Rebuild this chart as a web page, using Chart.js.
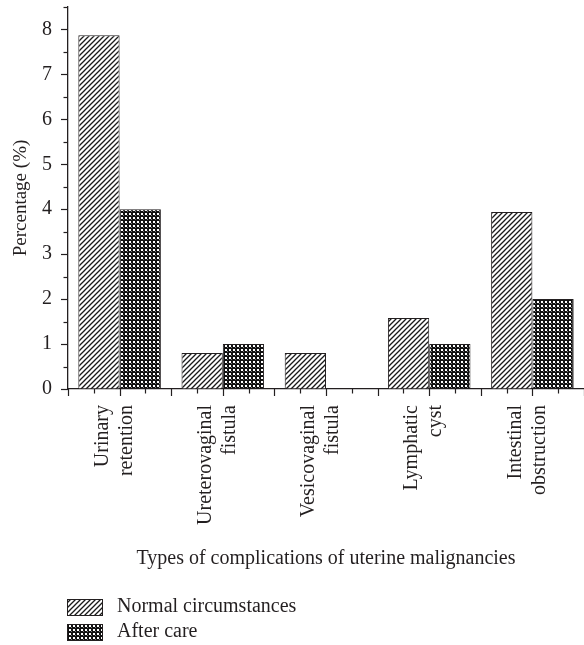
<!DOCTYPE html>
<html>
<head>
<meta charset="utf-8">
<script src="https://cdn.jsdelivr.net/npm/chart.js@4/dist/chart.umd.min.js"></script>
<style>
  html, body { margin: 0; padding: 0; background: #fff; }
  #wrap { width: 584px; height: 645px; position: relative; }
</style>
</head>
<body>
<div id="wrap"><canvas id="c"></canvas></div>
<script>
// ---- data ----
const categories = [
  ["Urinary", "retention"],
  ["Ureterovaginal", "fistula"],
  ["Vesicovaginal", "fistula"],
  ["Lymphatic", "cyst"],
  ["Intestinal", "obstruction"]
];
const seriesNames = ["Normal circumstances", "After care"];
const normalValues = [7.87, 0.8, 0.8, 1.58, 3.94];
const afterCareValues = [4.0, 1.0, 0, 1.0, 2.0];
const yAxisTitle = "Percentage (%)";
const xAxisTitle = "Types of complications of uterine malignancies";

const INK = '#231f20';
const FONT = "'Liberation Serif', 'DejaVu Serif', 'Times New Roman', serif";

function hatchPattern() {
  const s = 5;
  const c = document.createElement('canvas');
  c.width = s; c.height = s;
  const g = c.getContext('2d');
  g.fillStyle = '#fff'; g.fillRect(0, 0, s, s);
  g.strokeStyle = '#1a1a1a'; g.lineWidth = 1.3;
  g.beginPath();
  g.moveTo(-1, 1); g.lineTo(1, -1);
  g.moveTo(0, s); g.lineTo(s, 0);
  g.moveTo(s - 1, s + 1); g.lineTo(s + 1, s - 1);
  g.stroke();
  return g.createPattern(c, 'repeat');
}
function checkPattern() {
  const s = 4;
  const c = document.createElement('canvas');
  c.width = s; c.height = s;
  const g = c.getContext('2d');
  g.fillStyle = '#111'; g.fillRect(0, 0, s, s);
  g.fillStyle = '#fff'; g.fillRect(1, 1, 2, 2);
  g.fillStyle = '#777'; g.fillRect(3, 3, 1, 1);
  return g.createPattern(c, 'repeat');
}

const ctx = document.getElementById('c').getContext('2d');
const patterns = [hatchPattern(), checkPattern()];

function zeroPadding(scale) {
  scale.paddingTop = 0; scale.paddingBottom = 0;
  scale.paddingLeft = 0; scale.paddingRight = 0;
}

const axisTicksPlugin = {
  id: 'axisTicks',
  afterDraw(chart) {
    const g = chart.ctx;
    const xs = chart.scales.x, ys = chart.scales.y;
    g.save();
    g.strokeStyle = INK;
    g.lineWidth = 1.2;
    const yl = chart.chartArea.left;
    for (let k = 0; k <= 17; k++) {
      const v = k * 0.5;
      const py = Math.round(ys.getPixelForValue(v)) + 0.5;
      const len = (k % 2 === 0) ? 7 : 4.5;
      g.beginPath(); g.moveTo(yl, py); g.lineTo(yl - len, py); g.stroke();
    }
    const w = xs.getPixelForValue(1) - xs.getPixelForValue(0);
    const start = xs.getPixelForValue(0) - w / 2;
    const yb = chart.chartArea.bottom;
    const n = categories.length * 4;
    for (let k = 0; k <= n; k++) {
      const px = Math.round(start + k * w / 4) + 0.5;
      const len = (k % 2 === 0) ? 7 : 4.5;
      g.beginPath(); g.moveTo(px, yb); g.lineTo(px, yb + len); g.stroke();
    }
    g.restore();
  }
};

const legendPlugin = {
  id: 'customLegend',
  afterDraw(chart) {
    const g = chart.ctx;
    g.save();
    g.font = "20px " + FONT;
    g.textBaseline = 'middle';
    g.textAlign = 'left';
    chart.data.datasets.forEach((ds, i) => {
      const top = 599 + i * 25;
      g.fillStyle = ds.backgroundColor;
      g.fillRect(67, top, 35, 16);
      g.strokeStyle = INK; g.lineWidth = 1;
      g.strokeRect(67.5, top + 0.5, 35, 16);
      g.fillStyle = INK;
      g.fillText(ds.label, 117, top + 8);
    });
    g.restore();
  }
};

new Chart(ctx, {
  type: 'bar',
  data: {
    labels: categories,
    datasets: [
      { label: seriesNames[0], data: normalValues, backgroundColor: patterns[0], borderColor: INK, borderWidth: 1 },
      { label: seriesNames[1], data: afterCareValues, backgroundColor: patterns[1], borderColor: INK, borderWidth: 1 }
    ]
  },
  options: {
    responsive: true,
    maintainAspectRatio: false,
    animation: false,
    layout: { autoPadding: false, padding: { top: 7, right: -2, bottom: 70, left: 0 } },
    datasets: { bar: { categoryPercentage: 0.8, barPercentage: 1.0 } },
    plugins: { legend: { display: false }, tooltip: { enabled: false } },
    scales: {
      x: {
        offset: true,
        grid: { display: true, drawOnChartArea: false, color: 'transparent', tickLength: 7 },
        border: { display: true, color: INK, width: 1.3 },
        ticks: {
          color: INK, font: { family: FONT, size: 20, lineHeight: 1.2 },
          minRotation: 90, maxRotation: 90, autoSkip: false, padding: 9, labelOffset: -17
        },
        title: { display: true, text: xAxisTitle, color: INK, font: { family: FONT, size: 20, lineHeight: 1.2 }, padding: { top: 4, bottom: 4 } },
        afterFit(scale) { scale.height = 186; zeroPadding(scale); }
      },
      y: {
        min: 0, max: 8.5,
        grid: { display: true, drawOnChartArea: false, color: 'transparent', tickLength: 7 },
        border: { display: true, color: INK, width: 1.3 },
        ticks: {
          stepSize: 1, color: INK, padding: 9,
          font: { family: FONT, size: 20, lineHeight: 0.6 },
          callback: (v) => Number.isInteger(v) ? String(v) : null
        },
        title: { display: true, text: yAxisTitle, color: INK, font: { family: FONT, size: 19, lineHeight: 1.2 }, padding: { top: 10, bottom: 10 } },
        afterFit(scale) { scale.width = 68; zeroPadding(scale); }
      }
    }
  },
  plugins: [axisTicksPlugin, legendPlugin]
});
</script>
</body>
</html>
